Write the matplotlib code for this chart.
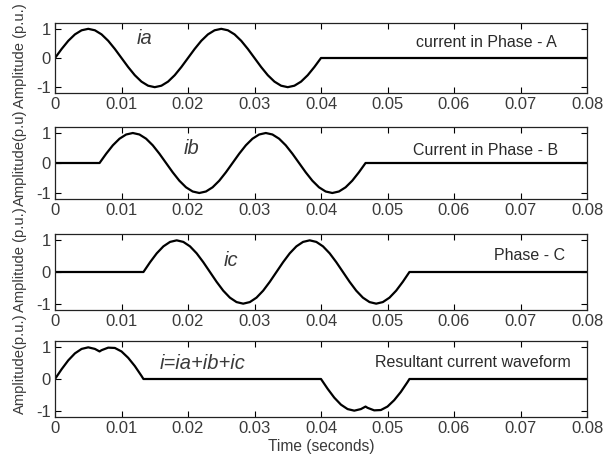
import matplotlib
matplotlib.use('Agg')
import matplotlib.pyplot as plt
import numpy as np

plt.rcParams['font.family'] = ['Liberation Sans', 'DejaVu Sans']
plt.rcParams['axes.unicode_minus'] = False

# sample times in ms, values in p.u.
ia_t = [0, 1, 2, 3, 4, 5, 6, 7, 8, 9, 10, 11, 12, 13, 14, 15, 16, 17, 18, 19, 20,
        21, 22, 23, 24, 25, 26, 27, 28, 29, 30, 31, 32, 33, 34, 35, 36, 37, 38, 39, 40, 80]
ia_v = [0, .31, .59, .81, .95, 1, .95, .81, .59, .31, 0, -.31, -.59, -.81, -.95, -1, -.95, -.81, -.59, -.31, 0,
        .31, .59, .81, .95, 1, .95, .81, .59, .31, 0, -.31, -.59, -.81, -.95, -1, -.95, -.81, -.59, -.31, 0, 0]

ib_t = [0, 6.7, 7.7, 8.7, 9.7, 10.7, 11.7, 12.7, 13.7, 14.7, 15.7, 16.7, 17.7, 18.7, 19.7, 20.7,
        21.7, 22.7, 23.7, 24.7, 25.7, 26.7, 27.7, 28.7, 29.7, 30.7, 31.7, 32.7, 33.7, 34.7, 35.7,
        36.7, 37.7, 38.7, 39.7, 40.7, 41.7, 42.7, 43.7, 44.7, 45.7, 46.7, 80]
ib_v = [0, 0, .31, .59, .81, .95, 1, .95, .81, .59, .31, 0, -.31, -.59, -.81, -.95, -1, -.95, -.81, -.59, -.31, 0,
        .31, .59, .81, .95, 1, .95, .81, .59, .31, 0, -.31, -.59, -.81, -.95, -1, -.95, -.81, -.59, -.31, 0, 0]

ic_t = [0, 13.3, 14.3, 15.3, 16.3, 17.3, 18.3, 19.3, 20.3, 21.3, 22.3, 23.3, 24.3, 25.3, 26.3, 27.3,
        28.3, 29.3, 30.3, 31.3, 32.3, 33.3, 34.3, 35.3, 36.3, 37.3, 38.3, 39.3, 40.3, 41.3, 42.3,
        43.3, 44.3, 45.3, 46.3, 47.3, 48.3, 49.3, 50.3, 51.3, 52.3, 53.3, 80]
ic_v = ib_v

i_t = [0, 1, 2, 3, 4, 5, 6, 6.7, 7, 8, 9, 10, 11, 12, 13, 13.3, 40,
       41, 42, 43, 44, 45, 46, 46.7, 47, 48, 49, 50, 51, 52, 53, 53.3, 80]
i_v = [0, .31, .59, .81, .95, 1, .95, .87, .91, .99, .98, .87, .67, .41, .10, 0, 0,
       -.31, -.59, -.81, -.95, -1, -.95, -.87, -.91, -.99, -.98, -.87, -.67, -.41, -.10, 0, 0]

xticks = [0, 0.01, 0.02, 0.03, 0.04, 0.05, 0.06, 0.07, 0.08]
xtick_labels = ['0', '0.01', '0.02', '0.03', '0.04', '0.05', '0.06', '0.07', '0.08']

panels = [
    (ia_t, ia_v, 'ia', (0.0123, 0.66), 'current in Phase - A', (0.0755, 0.53), 'Amplitude (p.u.)'),
    (ib_t, ib_v, 'ib', (0.0193, 0.48), 'Current in Phase - B', (0.0757, 0.41), 'Amplitude(p.u)'),
    (ic_t, ic_v, 'ic', (0.0253, 0.35), 'Phase - C', (0.0767, 0.52), 'Amplitude (p.u.)'),
    (i_t, i_v, 'i=ia+ib+ic', (0.0158, 0.50), 'Resultant current waveform', (0.0775, 0.53), 'Amplitude(p.u.)'),
]

# pixel boxes (top, bottom) of each axes
boxes = [(23, 93), (127, 199), (234, 310), (341, 417)]
label_y = [0.53, 0.57, 0.66, 0.70]

W, H = 605, 462
fig = plt.figure(figsize=(W / 100, H / 100), dpi=100)

for k, (t, v, name, npos, title, tpos, ylab) in enumerate(panels):
    top, bot = boxes[k]
    ax = fig.add_axes([55 / W, 1 - bot / H, 532 / W, (bot - top) / H])
    ax.plot(np.array(t) / 1000, v, color='black', lw=1.6)
    ax.set_xlim(0, 0.08)
    ax.set_ylim(-1.2, 1.2)
    ax.set_xticks(xticks)
    ax.set_xticklabels(xtick_labels)
    ax.set_yticks([-1, 0, 1])
    ax.set_yticklabels(['-1', '0', '1'])
    ax.tick_params(direction='in', top=True, right=True, length=4, width=0.8,
                   labelsize=12, labelcolor='#3a3a3a', pad=3)
    for s in ax.spines.values():
        s.set_linewidth(0.9)
        s.set_color('#222222')
    ax.text(npos[0], npos[1], name, style='italic', fontsize=14.5, color='#3a3a3a',
            ha='left', va='center')
    ax.text(tpos[0], tpos[1], title, fontsize=11.5, color='#2a2a2a', ha='right', va='center')
    ax.set_ylabel(ylab, fontsize=10.6, color='#3a3a3a')
    ax.yaxis.set_label_coords(-0.052, label_y[k])
    if k == 3:
        ax.set_xlabel('Time (seconds)', fontsize=11.2, color='#3a3a3a', labelpad=2)

fig.savefig('out.png', dpi=100)
